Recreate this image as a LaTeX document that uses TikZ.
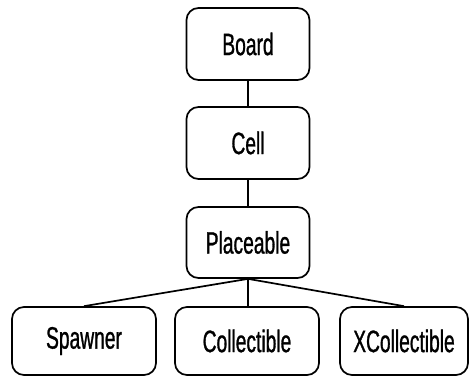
\documentclass[tikz,border=0pt]{standalone}
\usepackage{fontspec}
\setmainfont[FakeStretch=0.62,FakeBold=0.9]{Liberation Sans}
\begin{document}
\begin{tikzpicture}[x=1pt,y=-1pt,
  box/.style={draw=black, line width=1.7pt, rounded corners=12pt, fill=white, inner sep=0pt, font=\fontsize{31}{31}\selectfont},
  link/.style={draw=black, line width=1.7pt}]
\useasboundingbox (0,0) rectangle (476,376);
\node[box, minimum width=123pt, minimum height=72pt] (board) at (248,44) {Board};
\node[box, minimum width=123pt, minimum height=72pt] (cell) at (248,143) {Cell};
\node[box, minimum width=123pt, minimum height=71pt] (place) at (248,242.5) {Placeable};
\node[box, minimum width=144pt, minimum height=68pt] (spawn) at (84,341) {Spawner};
\node[box, minimum width=144pt, minimum height=68pt] (coll) at (247,341) {Collectible};
\node[box, minimum width=128pt, minimum height=68pt] (xcoll) at (404,341) {XCollectible};
\draw[link] (board) -- (cell);
\draw[link] (cell) -- (place);
\draw[link] (place.south) -- (spawn.north);
\draw[link] (place.south) -- (place.south |- coll.north);
\draw[link] (place.south) -- (xcoll.north);
\end{tikzpicture}
\end{document}
